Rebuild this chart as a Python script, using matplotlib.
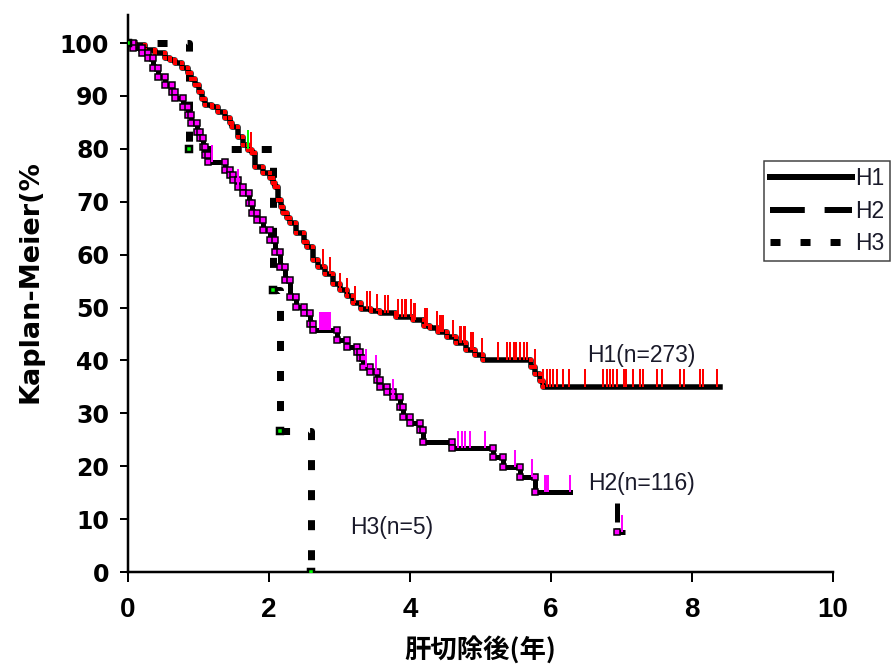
# Kaplan-Meier curves after hepatectomy, H1/H2/H3 groups
import numpy as np
import matplotlib.pyplot as plt
from matplotlib.lines import Line2D

PX = 0.72  # points per pixel at dpi=100

# --- data ---
# H1 (n=273): event times (years) and survival (%) after each step
h1_t = [0, 0.10, 0.24, 0.38, 0.52, 0.60, 0.67, 0.77, 0.85, 0.90, 0.95, 1.00, 1.05, 1.09,
        1.19, 1.28, 1.38, 1.45, 1.48, 1.56, 1.63, 1.70, 1.76, 1.80, 1.92, 2.01, 2.06, 2.09,
        2.13, 2.17, 2.20, 2.25, 2.30, 2.39, 2.49, 2.54, 2.62, 2.70, 2.80, 2.91, 3.00, 3.10,
        3.19, 3.30, 3.45, 3.57, 3.80, 4.04, 4.20, 4.28, 4.40, 4.52, 4.65, 4.80, 4.92, 5.04,
        5.72, 5.78, 5.84, 5.88]
h1_s = [100, 99.6, 98.7, 98.1, 97.2, 96.7, 96.2, 95.3, 94.3, 93.2, 92.1, 90.8, 89.4, 88.3,
        87.9, 87.0, 85.8, 84.8, 84.1, 82.2, 80.7, 79.8, 79.2, 76.6, 75.4, 74.5, 73.6, 72.8,
        70.3, 69.0, 67.9, 67.0, 66.0, 64.1, 62.4, 61.4, 59.0, 57.7, 56.3, 54.5, 53.3, 52.2,
        50.8, 49.8, 49.3, 49.0, 48.3, 47.6, 46.6, 46.1, 45.3, 44.4, 43.3, 42.0, 41.0, 40.1,
        38.8, 37.5, 36.2, 35.0]
h1_end = 8.40
h1_cens = [1.75, 2.77, 2.87, 3.01, 3.10, 3.22, 3.39, 3.43, 3.53, 3.65, 3.69, 3.83, 3.88,
           3.93, 3.95, 4.02, 4.05, 4.07, 4.21, 4.24, 4.38, 4.43, 4.45, 4.47, 4.61, 4.71,
           4.73, 4.76, 4.78, 4.87, 4.89, 5.02, 5.25, 5.37, 5.42, 5.47, 5.51, 5.56, 5.61,
           5.66, 5.77, 5.89, 5.94, 5.99, 6.03, 6.08, 6.17, 6.25, 6.48, 6.74, 6.79, 6.84,
           6.88, 6.93, 7.03, 7.07, 7.17, 7.26, 7.31, 7.50, 7.57, 7.83, 7.88, 8.11, 8.16, 8.35]

# H2 (n=116)
h2_t = [0, 0.07, 0.20, 0.28, 0.35, 0.43, 0.52, 0.62, 0.67, 0.78, 0.85, 0.90, 0.98, 1.02,
        1.06, 1.09, 1.14, 1.38, 1.45, 1.49, 1.56, 1.63, 1.71, 1.76, 1.83, 1.92, 2.01, 2.09,
        2.16, 2.23, 2.30, 2.39, 2.49, 2.58, 2.62, 2.96, 3.10, 3.25, 3.29, 3.34, 3.43, 3.53,
        3.57, 3.67, 3.76, 3.86, 3.90, 4.00, 4.14, 4.18, 4.60, 5.18, 5.32, 5.56, 5.77, 6.93]
h2_s = [100, 99.1, 98.2, 97.2, 95.3, 93.6, 92.1, 90.7, 89.6, 87.9, 86.4, 84.9, 83.2, 82.0,
        80.3, 78.8, 77.5, 76.0, 75.0, 74.1, 72.8, 71.6, 69.8, 67.9, 66.5, 64.7, 62.8, 60.5,
        57.7, 55.2, 52.0, 50.1, 49.0, 46.8, 45.8, 43.9, 42.6, 41.6, 40.5, 38.8, 37.8, 36.3,
        35.0, 34.0, 33.1, 31.2, 29.3, 28.2, 26.8, 24.6, 23.4, 21.7, 19.8, 18.0, 15.1, 7.5]
h2_end = 7.05
h2_cens = [1.19, 1.56, 2.72, 2.75, 2.78, 2.81, 2.84, 2.87, 3.38, 3.52, 3.76, 4.68, 4.74,
           4.78, 4.85, 5.06, 5.49, 5.73, 5.91, 5.93, 5.96, 6.27, 7.01]

# H3 (n=5)
h3_t = [0, 0.86, 2.05, 2.15, 2.60]
h3_s = [100, 80.0, 53.3, 26.7, 0.0]
h3_cens = [1.70]


def surv_at(t_ev, s_ev, t):
    idx = np.searchsorted(np.array(t_ev), np.array(t), side='right') - 1
    return np.array(s_ev)[idx]


def corners(t_ev, s_ev):
    # both corners of every step, for the point markers
    xs, ys = [t_ev[0]], [s_ev[0]]
    for i in range(1, len(t_ev)):
        xs += [t_ev[i], t_ev[i]]
        ys += [s_ev[i - 1], s_ev[i]]
    return xs, ys


fig = plt.figure(figsize=(8.96, 6.68), dpi=100)
ax = fig.add_axes([128 / 896, 96 / 668, 705 / 896, 557 / 668])

# H1: black solid step, red points, red censor ticks
ax.step(h1_t + [h1_end], h1_s + [h1_s[-1]], where='post', color='black', lw=5.5 * PX, zorder=3)
cx, cy = corners(h1_t, h1_s)
ax.plot(cx[1:], cy[1:], 's', color='#ff0000', ms=5 * PX, mew=0, zorder=4)
s = surv_at(h1_t, h1_s, h1_cens)
ax.vlines(h1_cens, s, s + 3.3, color='#ff0000', lw=2 * PX, zorder=4)

# H2: black step, magenta points, magenta censor ticks
cut = 55
ax.step(h2_t[:cut] + [6.27], h2_s[:cut] + [h2_s[cut - 1]], where='post', color='black',
        lw=5 * PX, zorder=3)
ax.plot([h2_t[cut], h2_t[cut], h2_end], [h2_s[cut - 1], h2_s[cut], h2_s[cut]],
        color='black', lw=5 * PX, linestyle=(8.8, (3.8, 1.2, 3.8, 2.2)), zorder=3)
cx, cy = corners(h2_t, h2_s)
ax.plot(cx[1:-2] + [cx[-1]], cy[1:-2] + [cy[-1]], 's', mfc='#ff00ff', mec='black',
        ms=6 * PX, mew=1.5 * PX, zorder=4)
s = surv_at(h2_t, h2_s, h2_cens)
ax.vlines(h2_cens, s, s + 3.3, color='#ff00ff', lw=2 * PX, zorder=4)

# H3: black dotted step, green points
ax.step(h3_t, h3_s, where='post', color='black', lw=7 * PX,
        linestyle=(0.14, (1.43, 2.86)), zorder=3)
cx, cy = corners(h3_t, h3_s)
ax.plot(cx[::2], cy[::2], 's', mfc='#00ff00', mec='black', ms=6 * PX, mew=2.5 * PX, zorder=4)
s = surv_at(h3_t, h3_s, h3_cens)
ax.vlines(h3_cens, s, s + 3.5, color='#00ff00', lw=2 * PX, zorder=4)

# axes
ax.set_xlim(0, 10)
ax.set_ylim(0, 105.3)
ax.set_xticks(range(0, 11, 2))
ax.set_yticks(range(0, 101, 10))
for side in ['top', 'right']:
    ax.spines[side].set_visible(False)
for side in ['left', 'bottom']:
    ax.spines[side].set_linewidth(2.5 * PX)
ax.tick_params(axis='y', length=8 * PX, width=2 * PX, pad=11 * PX)
ax.tick_params(axis='x', length=10 * PX, width=2 * PX, pad=15 * PX)
for lab in ax.get_yticklabels():
    lab.set_fontfamily(['DejaVu Sans'])
    lab.set_fontweight('bold')
    lab.set_fontsize(17)
for lab in ax.get_xticklabels():
    lab.set_fontfamily(['Liberation Sans Narrow', 'Liberation Sans'])
    lab.set_fontweight('bold')
    lab.set_fontsize(20)

fig.text(30 / 896, 1 - 282 / 668, 'Kaplan-Meier(%', rotation=90, ha='center', va='center',
         fontsize=19.5, fontweight='bold', family=['DejaVu Sans'])
fig.text(480 / 896, 1 - 651 / 668, '肝切除後(年)', ha='center', va='center',
         fontsize=19, fontweight='bold', family=['Noto Sans CJK JP', 'DejaVu Sans'])

# group labels
txt = dict(fontsize=16.5, family=['Liberation Sans', 'DejaVu Sans'], color='#1a1a2a',
           ha='left', va='center')
ax.text(6.51, 41.0, 'H1(n=273)', **txt)
ax.text(6.52, 16.8, 'H2(n=116)', **txt)
ax.text(3.15, 8.5, 'H3(n=5)', **txt)

# legend
handles = [Line2D([], [], color='black', lw=6 * PX),
           Line2D([], [], color='black', lw=6 * PX, linestyle=(0, (5.8, 3.3))),
           Line2D([], [], color='black', lw=7 * PX, linestyle=(0, (1.43, 2.86)))]
leg = fig.legend(handles, ['H1', 'H2', 'H3'], loc='upper left',
                 bbox_to_anchor=(764 / 896, 1 - 161 / 668), frameon=True, fancybox=False,
                 edgecolor='#404040', framealpha=1, borderpad=0.25, borderaxespad=0,
                 handlelength=3.57, handletextpad=0.17, labelspacing=0.43,
                 prop={'family': ['Liberation Sans', 'DejaVu Sans'], 'size': 16.5})
leg.get_frame().set_linewidth(1.5 * PX)
for t in leg.get_texts():
    t.set_color('#1a1a2a')

fig.savefig('out.png', dpi=100)
